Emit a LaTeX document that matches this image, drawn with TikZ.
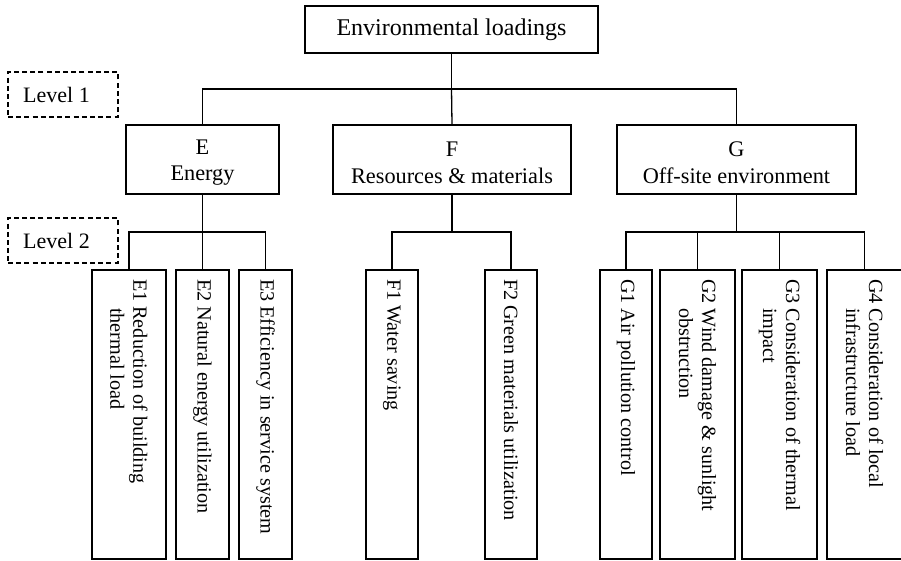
\documentclass[tikz,border=0pt]{standalone}
\usepackage{fontspec}
\setmainfont{Liberation Serif}
\begin{document}
\begin{tikzpicture}[x=1pt,y=-1pt,
  every path/.style={line width=1.3pt},
  topbox/.style={draw, line width=1.3pt, minimum width=293pt, minimum height=47pt, inner sep=0pt, font=\fontsize{24}{28}\selectfont},
  catbox/.style={draw, line width=1.3pt, minimum height=69pt, inner sep=0pt, align=center, font=\fontsize{22.3}{26.7}\selectfont},
  subbox/.style={draw, line width=1.3pt, minimum height=289pt, inner sep=0pt},
  subtext/.style={rotate=-90, anchor=west, inner sep=0pt, align=left, font=\fontsize{20.2}{23}\selectfont},
  lvlbox/.style={draw, dashed, dash pattern=on 5pt off 3.2pt, line width=1.3pt, minimum width=110pt, minimum height=45pt, inner sep=0pt},
  lvltext/.style={inner sep=0pt, font=\fontsize{22}{26}\selectfont},
  conn/.style={draw, line width=1.3pt}
]
\useasboundingbox (0,0) rectangle (901,560);

% top
\node[topbox] (top) at (451.5,29.5) {Environmental loadings};

% level markers
\node[lvlbox] (l1) at (63,94.5) {};
\node[lvltext] (l1t) at (56.5,94.5) {Level 1};
\node[lvlbox] (l2) at (63,240.5) {};
\node[lvltext] (l2t) at (56.5,240.5) {Level 2};

% level 1
\node[catbox, minimum width=153pt] (E) at (202.5,159.5) {\rule{0pt}{21pt}E\\Energy};
\node[catbox, minimum width=238pt] (F) at (452,159.5) {\rule{0pt}{21pt}F\\Resources \& materials};
\node[catbox, minimum width=239pt] (G) at (736.5,159.5) {\rule{0pt}{21pt}G\\Off-site environment};

% level 2 boxes
\node[subbox, minimum width=74pt] (E1) at (129,414.5) {};
\node[subbox, minimum width=53pt] (E2) at (202.5,414.5) {};
\node[subbox, minimum width=53pt] (E3) at (265.5,414.5) {};
\node[subbox, minimum width=52pt] (F1) at (392,414.5) {};
\node[subbox, minimum width=52pt] (F2) at (511,414.5) {};
\node[subbox, minimum width=52pt] (G1) at (626,414.5) {};
\node[subbox, minimum width=75pt] (G2) at (697.5,414.5) {};
\node[subbox, minimum width=75pt] (G3) at (779.5,414.5) {};
\node[subbox, minimum width=78pt] (G4) at (866,414.5) {};

% level 2 texts
\node[subtext] (E1t) at ([yshift=-9pt]E1.north) {E1 Reduction of building\\\hspace*{29pt}thermal load};
\node[subtext] (E2t) at ([yshift=-9pt]E2.north) {E2 Natural energy utilization};
\node[subtext] (E3t) at ([yshift=-9pt]E3.north) {E3 Efficiency in service system};
\node[subtext] (F1t) at ([yshift=-9pt]F1.north) {F1 Water saving};
\node[subtext] (F2t) at ([yshift=-9pt]F2.north) {F2 Green materials utilization};
\node[subtext] (G1t) at ([yshift=-9pt]G1.north) {G1 Air pollution control};
\node[subtext] (G2t) at ([yshift=-9pt]G2.north) {G2 Wind damage \& sunlight\\\hspace*{29pt}obstruction};
\node[subtext] (G3t) at ([yshift=-9pt]G3.north) {G3 Consideration of thermal\\\hspace*{29pt}impact};
\node[subtext] (G4t) at ([xshift=-1.5pt,yshift=-9pt]G4.north) {G4 Consideration of local\\\hspace*{29pt}infrastructure load};

% bus coordinates
\coordinate (bus1) at (0,89);
\coordinate (bus2) at (0,232);
\coordinate (g4top) at ([xshift=-1.5pt]G4.north);

% connectors level 1
\path[conn] (top.south) -- (top.south |- bus1) -| (E.north);
\path[conn] (top.south |- bus1) -| (G.north);
\path[conn] (top.south |- bus1) -- (F.north);

% connectors level 2
\path[conn] (E.south) -- (E.south |- bus2) -| (E1.north);
\path[conn] (E.south |- bus2) -| (E3.north);
\path[conn] (E.south |- bus2) -- (E2.north);
\path[conn] (F.south) -- (F.south |- bus2) -| (F1.north);
\path[conn] (F.south |- bus2) -| (F2.north);
\path[conn] (G.south) -- (G.south |- bus2) -| (G1.north);
\path[conn] (G.south |- bus2) -| (g4top);
\path[conn] (G2.north |- bus2) -- (G2.north);
\path[conn] (G3.north |- bus2) -- (G3.north);
\end{tikzpicture}
\end{document}
